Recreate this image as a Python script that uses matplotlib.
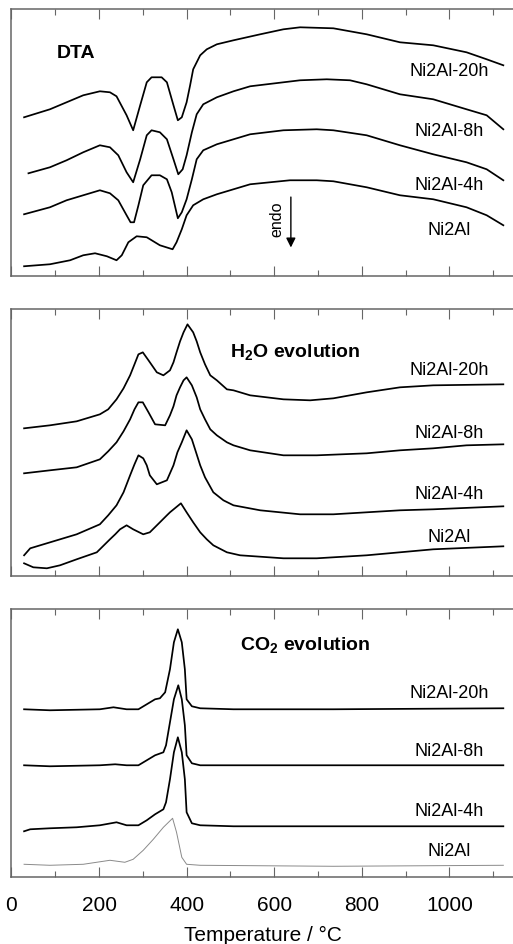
"""
DTA, H2O and CO2 evolution curves of Ni2Al samples (stacked panels)
"""
import matplotlib
matplotlib.use('Agg')
import matplotlib.pyplot as plt
from matplotlib.ticker import MultipleLocator

plt.rcParams['font.family'] = ['Liberation Sans', 'DejaVu Sans']
plt.rcParams['mathtext.fontset'] = 'custom'
plt.rcParams['mathtext.rm'] = 'Liberation Sans'
plt.rcParams['mathtext.bf'] = 'Liberation Sans:bold'

samples = ['Ni2Al-20h', 'Ni2Al-8h', 'Ni2Al-4h', 'Ni2Al']

# ---- DTA (arbitrary units, curves already offset) ----
dta_t = {
    'Ni2Al-20h': [29, 88, 126, 164, 202, 225, 240, 263, 278, 294, 309, 320, 343, 355, 370,
                  380, 389, 400, 408, 415, 431, 446, 469, 507, 568, 621, 659, 735, 811,
                  887, 963, 1039, 1085, 1123],
    'Ni2Al-8h': [39, 88, 126, 164, 202, 225, 244, 263, 278, 294, 309, 320, 339, 355, 370,
                 381, 391, 400, 412, 423, 438, 469, 507, 545, 621, 659, 720, 773, 811,
                 887, 963, 1039, 1085, 1123],
    'Ni2Al-4h': [29, 88, 126, 164, 202, 225, 244, 263, 272, 280, 290, 301, 320, 339, 355,
                 366, 380, 389, 400, 412, 423, 438, 469, 545, 621, 697, 735, 811, 887,
                 963, 1039, 1085, 1123],
    'Ni2Al': [29, 88, 134, 164, 191, 218, 240, 252, 267, 286, 309, 339, 368, 377, 389,
              400, 415, 438, 469, 545, 636, 697, 735, 811, 887, 963, 1039, 1085, 1123],
}
dta_y = {
    'Ni2Al-20h': [159, 167, 174, 181, 185, 184, 180, 161, 146, 171, 194, 199, 199, 194, 171,
                  156, 159, 174, 191, 207, 221, 227, 232, 236, 242, 247, 249, 248, 242,
                  234, 231, 224, 217, 211],
    'Ni2Al-8h': [103, 109, 116, 124, 131, 129, 121, 104, 94, 117, 141, 146, 144, 137, 117,
                 102, 107, 121, 144, 162, 172, 179, 185, 190, 194, 196, 197, 196, 192,
                 182, 177, 167, 161, 147],
    'Ni2Al-4h': [62, 69, 76, 81, 86, 83, 76, 61, 54, 54, 71, 91, 101, 101, 97,
                 84, 58, 64, 77, 97, 117, 126, 132, 142, 146, 147, 146, 141, 131,
                 122, 114, 107, 96],
    'Ni2Al': [10, 12, 16, 21, 23, 20, 16, 21, 34, 40, 39, 31, 27, 34, 47,
              61, 71, 77, 82, 92, 96, 96, 95, 89, 81, 77, 69, 61, 51],
}

# ---- H2O evolution ----
h2o_t = {
    'Ni2Al-20h': [29, 88, 149, 202, 221, 240, 256, 271, 281, 290, 300, 313, 332, 347, 362,
                  370, 377, 385, 393, 402, 415, 423, 431, 442, 454, 469, 492, 507, 545,
                  621, 682, 735, 811, 887, 963, 1123],
    'Ni2Al-8h': [29, 88, 149, 202, 221, 240, 256, 271, 281, 290, 300, 313, 328, 351, 362,
                 370, 377, 385, 393, 400, 412, 423, 431, 442, 454, 469, 492, 507, 545,
                 621, 697, 811, 887, 963, 1039, 1123],
    'Ni2Al-4h': [29, 43, 96, 149, 202, 221, 240, 256, 271, 281, 290, 301, 309, 316, 332,
                 355, 370, 379, 389, 400, 412, 423, 431, 442, 461, 484, 507, 568, 659,
                 735, 811, 887, 963, 1123],
    'Ni2Al': [29, 50, 81, 111, 149, 195, 225, 237, 248, 263, 278, 301, 316, 339, 355,
              362, 387, 400, 415, 431, 446, 461, 492, 522, 621, 697, 811, 887, 963, 1123],
}
h2o_y = {
    'Ni2Al-20h': [148, 151, 155, 162, 167, 177, 188, 201, 212, 222, 224, 216, 204, 201, 206,
                  214, 224, 235, 244, 252, 244, 235, 224, 212, 201, 196, 187, 186, 181,
                  177, 176, 178, 184, 189, 191, 192],
    'Ni2Al-8h': [103, 106, 109, 117, 125, 134, 145, 157, 167, 174, 174, 164, 152, 151, 161,
                 170, 181, 189, 196, 199, 191, 179, 167, 157, 147, 141, 134, 131, 126,
                 121, 121, 123, 126, 128, 131, 132],
    'Ni2Al-4h': [21, 28, 35, 42, 52, 61, 71, 84, 101, 112, 121, 118, 111, 101, 92,
                 96, 111, 124, 134, 146, 137, 122, 111, 99, 84, 76, 71, 66, 62,
                 62, 64, 66, 67, 70],
    'Ni2Al': [13, 9, 8, 11, 17, 24, 37, 42, 47, 51, 47, 42, 44, 54, 61,
              64, 73, 64, 54, 44, 37, 31, 24, 21, 18, 18, 21, 24, 27, 30],
}

# ---- CO2 evolution ----
co2_t = {
    'Ni2Al-20h': [29, 88, 202, 233, 263, 290, 309, 328, 339, 351, 362, 371, 380, 389, 396,
                  400, 412, 431, 507, 735, 1123],
    'Ni2Al-8h': [29, 88, 202, 237, 263, 290, 309, 328, 347, 353, 362, 371, 381, 389, 396,
                 400, 412, 431, 735, 1123],
    'Ni2Al-4h': [29, 43, 88, 149, 202, 240, 263, 290, 309, 328, 347, 353, 362, 371, 380,
                 389, 396, 400, 412, 431, 507, 1123],
    'Ni2Al': [29, 88, 164, 225, 259, 278, 301, 324, 347, 368, 377, 389, 400, 431, 735, 1123],
}
co2_y = {
    'Ni2Al-20h': [168, 167, 168, 170, 168, 168, 173, 178, 179, 185, 208, 235, 248, 235, 208,
                  178, 171, 169, 168, 168, 169],
    'Ni2Al-8h': [112, 111, 112, 113, 112, 112, 117, 122, 125, 132, 155, 178, 192, 178, 152,
                 122, 114, 112, 112, 112],
    'Ni2Al-4h': [46, 48, 49, 50, 52, 55, 52, 52, 57, 63, 68, 75, 98, 125, 140,
                 125, 98, 65, 54, 52, 51, 51],
    'Ni2Al': [13, 12, 13, 17, 15, 18, 27, 38, 50, 59, 45, 20, 13, 12, 11, 12],
}

dta_label_y = [206, 146, 92, 47]
h2o_label_y = [207, 144, 83, 40]
co2_label_y = [185, 127, 67, 27]

panels = [
    (dta_t, dta_y, dta_label_y, 'DTA', 104, 224),
    (h2o_t, h2o_y, h2o_label_y, r'H$_\mathbf{2}$O evolution', 499, 224),
    (co2_t, co2_y, co2_label_y, r'CO$_\mathbf{2}$ evolution', 522, 232),
]

fig = plt.figure(figsize=(5.13, 9.45), dpi=100)
positions = [[0.0222, 0.7066, 0.982, 0.2825],
             [0.0222, 0.3891, 0.982, 0.2825],
             [0.0222, 0.0706, 0.982, 0.2836]]

for k, (tt, yy, ly, title, tx, ty) in enumerate(panels):
    ax = fig.add_axes(positions[k])
    for s in samples:
        if k == 2 and s == 'Ni2Al':
            ax.plot(tt[s], yy[s], color='#8a8a8a', lw=0.7)
        else:
            ax.plot(tt[s], yy[s], color='black', lw=1.25)
    for s, y in zip(samples, ly):
        ax.text(1000, y, s, ha='center', va='center', fontsize=13)
    ax.text(tx, ty, title, ha='left', va='center', fontsize=14, fontweight='bold')

    ax.set_xlim(0, 1150)
    ax.set_ylim(0, 268 if k == 2 else 267)
    ax.xaxis.set_major_locator(MultipleLocator(200))
    ax.xaxis.set_minor_locator(MultipleLocator(100))
    ax.tick_params(axis='x', which='both', direction='in', top=True, bottom=True,
                   color='#666666', width=0.8, labelsize=15, pad=12.5,
                   labelbottom=(k == 2))
    ax.tick_params(axis='x', which='major', length=7)
    ax.tick_params(axis='x', which='minor', length=4)
    ax.set_yticks([])
    for sp in ax.spines.values():
        sp.set_color('#666666')
        sp.set_linewidth(1.1)

    if k == 0:
        ax.annotate('', xy=(638, 26), xytext=(638, 82),
                    arrowprops=dict(arrowstyle='-|>', color='black', lw=1.0,
                                    mutation_scale=14))
        ax.text(606, 58, 'endo', rotation=90, ha='center', va='center', fontsize=11.5)
    if k == 2:
        ax.set_xlabel('Temperature / °C', fontsize=15, labelpad=8)

plt.savefig('out.png', dpi=100)
plt.close()
